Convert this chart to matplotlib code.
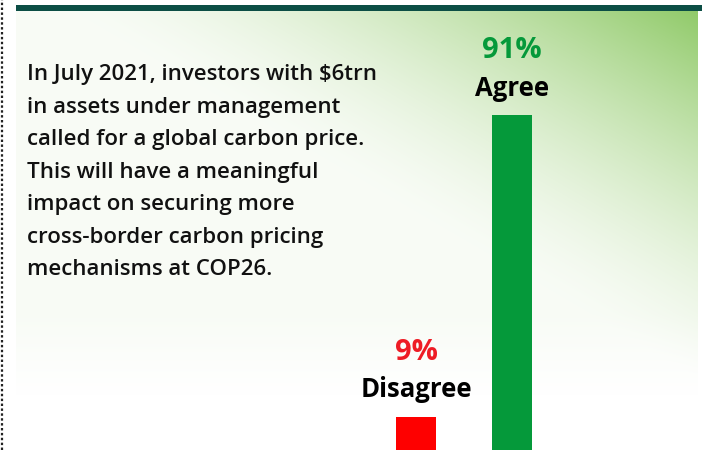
import matplotlib.pyplot as plt
import numpy as np
from matplotlib.patches import Rectangle
from matplotlib.lines import Line2D

categories = ['Disagree', 'Agree']
values = [9, 91]
pct_labels = ['9%', '91%']
colors = ['#fe0000', '#05993a']
pct_colors = ['#ee1c25', '#05993a']

body = ("In July 2021, investors with $6trn\n"
        "in assets under management\n"
        "called for a global carbon price.\n"
        "This will have a meaningful\n"
        "impact on securing more\n"
        "cross-border carbon pricing\n"
        "mechanisms at COP26.")

FONT = 'Open Sans'
W, H = 702, 450
fig = plt.figure(figsize=(W / 100, H / 100), dpi=100)
fig.patch.set_facecolor('white')

# background gradient (green glow from top-right corner)
bg = fig.add_axes([0, 0, 1, 1], zorder=0)
xx, yy = np.meshgrid(np.arange(16, 698) + 0.5, np.arange(11, H) + 0.5)
d = (698 - xx) / 650 + yy / 380
g = np.clip(1 - d, 0, 1) ** 1.5
tint = 0.06 * np.clip((395 - yy) / 80, 0, 1)
g = g + tint * (1 - g)
green = np.array([140, 200, 99]) / 255
img = 1 - g[..., None] * (1 - green)
bg.imshow(img, extent=(16, 698, H, 11), aspect='auto', interpolation='bilinear')
bg.set_xlim(0, W)
bg.set_ylim(H, 0)
bg.axis('off')

# top rule and dotted left border
fig.add_artist(Rectangle((16 / W, (H - 11) / H), (W - 16) / W, 6 / H,
                         transform=fig.transFigure, color='#0c4e45', lw=0))
fig.add_artist(Line2D([1.5 / W, 1.5 / W], [0, 1], transform=fig.transFigure,
                      color='#222222', lw=1.6, linestyle=(0, (1.1, 1.1))))

# bars
ax = fig.add_axes([368 / W, 0, 192 / W, (335 / 0.91) / H], zorder=2)
ax.patch.set_alpha(0)
x = np.arange(len(categories))
bars = ax.bar(x, values, width=40 / 96, color=colors)
ax.set_xlim(-0.5, 1.5)
ax.set_ylim(0, 100)
ax.axis('off')

for xi, v, lab, pct, pc in zip(x, values, categories, pct_labels, pct_colors):
    ax.annotate(lab, (xi, v), xytext=(0, 14), textcoords='offset points',
                ha='center', va='baseline', fontsize=18.5, fontweight='bold',
                family=FONT, color='black')
    ax.annotate(pct, (xi, v), xytext=(0, 41), textcoords='offset points',
                ha='center', va='baseline', fontsize=21, fontweight='bold',
                family=FONT, color=pc)

fig.text(27 / W, 1 - 64 / H, body, ha='left', va='top', fontsize=16,
         family=FONT, fontweight='semibold', color='#111111', linespacing=1.72)

fig.savefig('out.png', dpi=100)
